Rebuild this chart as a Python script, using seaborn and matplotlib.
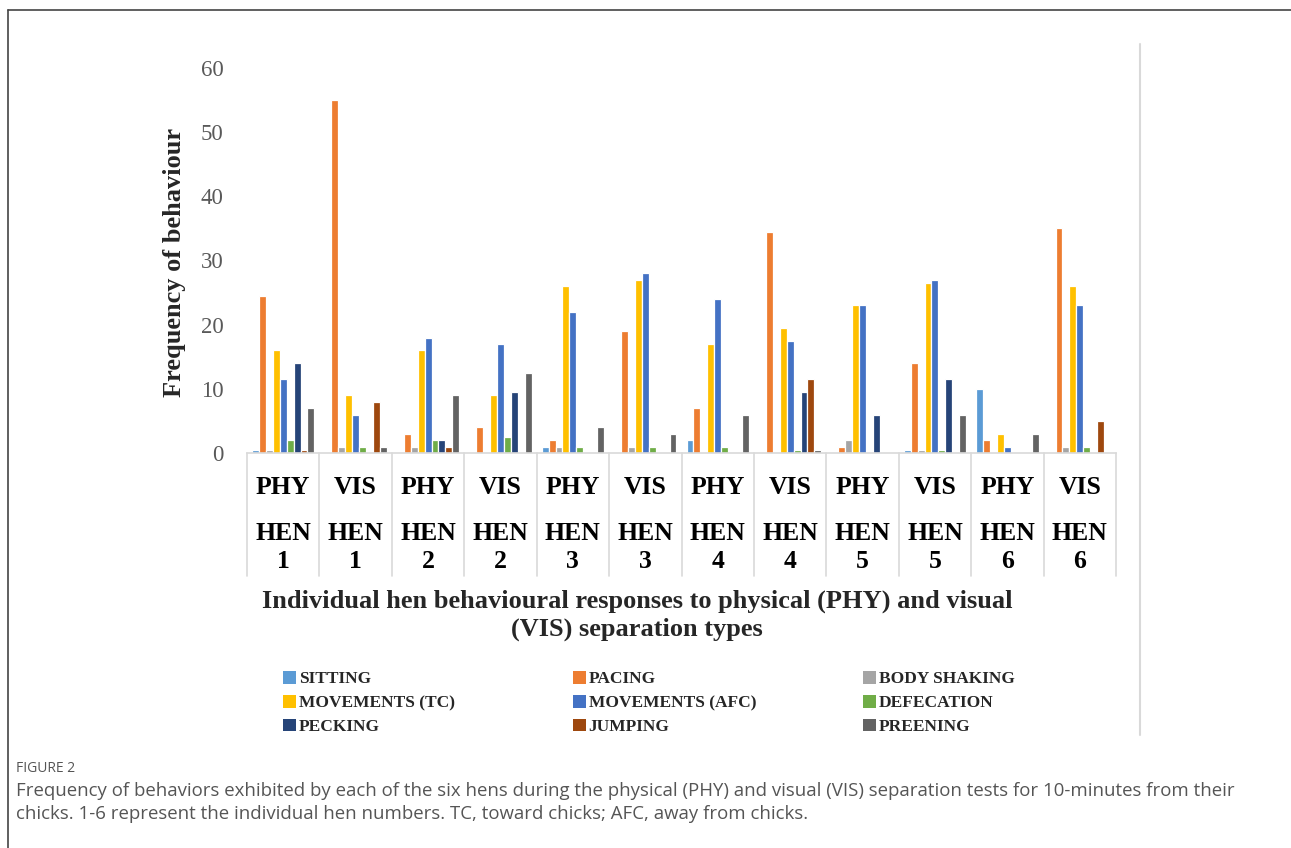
import matplotlib
matplotlib.use("Agg")
import matplotlib.pyplot as plt
import matplotlib.transforms as mtransforms
from matplotlib.patches import Patch
from matplotlib.lines import Line2D
import seaborn as sns
import pandas as pd

# ---------------- data ----------------
groups = ["PHY HEN 1", "VIS HEN 1", "PHY HEN 2", "VIS HEN 2", "PHY HEN 3", "VIS HEN 3",
          "PHY HEN 4", "VIS HEN 4", "PHY HEN 5", "VIS HEN 5", "PHY HEN 6", "VIS HEN 6"]
sep_types = ["PHY", "VIS", "PHY", "VIS", "PHY", "VIS", "PHY", "VIS", "PHY", "VIS", "PHY", "VIS"]
hen_numbers = ["1", "1", "2", "2", "3", "3", "4", "4", "5", "5", "6", "6"]

behaviours = ["SITTING", "PACING", "BODY SHAKING", "MOVEMENTS (TC)", "MOVEMENTS (AFC)",
              "DEFECATION", "PECKING", "JUMPING", "PREENING"]

sitting       = [0.5, 0, 0, 0, 1, 0, 2, 0, 0, 0.5, 10, 0]
pacing        = [24.5, 55, 3, 4, 2, 19, 7, 34.5, 1, 14, 2, 35]
body_shaking  = [0.5, 1, 1, 0, 1, 1, 0, 0, 2, 0.5, 0, 1]
movements_tc  = [16, 9, 16, 9, 26, 27, 17, 19.5, 23, 26.5, 3, 26]
movements_afc = [11.5, 6, 18, 17, 22, 28, 24, 17.5, 23, 27, 1, 23]
defecation    = [2, 1, 2, 2.5, 1, 1, 1, 0.5, 0, 0.5, 0, 1]
pecking       = [14, 0, 2, 9.5, 0, 0, 0, 9.5, 6, 11.5, 0, 0]
jumping       = [0.5, 8, 1, 0, 0, 0, 0, 11.5, 0, 0, 0, 5]
preening      = [7, 1, 9, 12.5, 4, 3, 6, 0.5, 0, 6, 3, 0]

series = [sitting, pacing, body_shaking, movements_tc, movements_afc,
          defecation, pecking, jumping, preening]

colors = ["#5B9BD5", "#ED7D31", "#A5A5A5", "#FFC000", "#4472C4",
          "#70AD47", "#264478", "#9E480E", "#636363"]

y_ticks = [0, 10, 20, 30, 40, 50, 60]

# long table for seaborn
rows = []
for b, vals in zip(behaviours, series):
    for g, v in zip(groups, vals):
        rows.append({"group": g, "behaviour": b, "value": v})
df = pd.DataFrame(rows)

# ---------------- figure ----------------
sns.set_style("white")
plt.rcParams["font.family"] = ["Liberation Serif", "DejaVu Serif"]

W, H = 1291, 848
fig = plt.figure(figsize=(W / 100, H / 100), dpi=100)
fig.patch.set_facecolor("white")

def fx(px):
    return px / W

def fy(py):
    return 1 - py / H

ax = fig.add_axes([fx(247), fy(453), fx(1116) - fx(247), fy(68) - fy(453)])

sns.barplot(data=df, x="group", y="value", hue="behaviour", order=groups,
            hue_order=behaviours, palette=colors, width=0.86,
            edgecolor="white", linewidth=0.9, saturation=1, errorbar=None,
            legend=False, ax=ax)

ax.set_xlim(-0.5, len(groups) - 0.5)
ax.set_ylim(0, 60)
ax.set_yticks(y_ticks)
ax.set_yticklabels([str(t) for t in y_ticks], fontsize=16.5, color="#595959")
ax.tick_params(axis="y", length=0, pad=17)
ax.set_xticks(range(len(groups)))
ax.set_xticklabels([""] * len(groups))
ax.tick_params(axis="x", length=0)
ax.set_xlabel("")
ax.set_ylabel("")
for s in ["top", "right", "left"]:
    ax.spines[s].set_visible(False)
ax.spines["bottom"].set_color("#D9D9D9")
ax.spines["bottom"].set_linewidth(1.2)
ax.grid(False)

# category labels and separators (table-like x axis)
blend = mtransforms.blended_transform_factory(ax.transData, fig.transFigure)
for i, (t, n) in enumerate(zip(sep_types, hen_numbers)):
    ax.text(i, fy(493.5), t, transform=blend, ha="center", va="baseline",
            fontsize=18.5, fontweight="bold", color="black")
    ax.text(i, fy(539.5), "HEN", transform=blend, ha="center", va="baseline",
            fontsize=18.5, fontweight="bold", color="black")
    ax.text(i, fy(568.5), n, transform=blend, ha="center", va="baseline",
            fontsize=18.5, fontweight="bold", color="black")
for k in range(len(groups) + 1):
    ax.plot([k - 0.5, k - 0.5], [fy(453), fy(576)], transform=blend,
            color="#D9D9D9", lw=1.2, clip_on=False)

# axis titles
fig.text(fx(637), fy(608), "Individual hen behavioural responses to physical (PHY) and visual",
         ha="center", va="baseline", fontsize=19, fontweight="bold")
fig.text(fx(637), fy(636), "(VIS) separation types",
         ha="center", va="baseline", fontsize=19, fontweight="bold")
fig.text(fx(175), fy(262), "Frequency of behaviour", rotation=90,
         ha="center", va="center", fontsize=19, fontweight="bold")

# legend: three columns, row-wise order like the reference
col_x = [283, 573, 863]
for c in range(3):
    idx = [c, c + 3, c + 6]
    handles = [Patch(facecolor=colors[j], edgecolor="none") for j in idx]
    labels = [behaviours[j] for j in idx]
    fig.legend(handles, labels, loc="upper left",
               bbox_to_anchor=(fx(col_x[c]), fy(671)),
               frameon=False, borderpad=0, borderaxespad=0,
               handlelength=0.75, handleheight=0.75, handletextpad=0.15,
               labelspacing=0.43,
               prop={"family": "Liberation Serif", "weight": "bold", "size": 12.5})

# chart-area border line on the right and outer frame
fig.add_artist(Line2D([fx(1140), fx(1140)], [fy(44), fy(735)], color="#D9D9D9", lw=1.5))
fig.add_artist(Line2D([fx(8), fx(8)], [fy(10), 0], color="#444444", lw=1.2))
fig.add_artist(Line2D([fx(8), 1], [fy(10), fy(10)], color="#444444", lw=1.2))

# caption
cap_font = ["Open Sans", "DejaVu Sans"]
fig.text(fx(16), fy(768), "FIGURE 2", ha="left", va="center", fontsize=10,
         color="#555555", family=cap_font)
fig.text(fx(16), fy(791),
         "Frequency of behaviors exhibited by each of the six hens during the physical (PHY) and visual (VIS) separation tests for 10-minutes from their",
         ha="left", va="center", fontsize=13.4, color="#555555", family=cap_font)
fig.text(fx(16), fy(814),
         "chicks. 1-6 represent the individual hen numbers. TC, toward chicks; AFC, away from chicks.",
         ha="left", va="center", fontsize=13.4, color="#555555", family=cap_font)

fig.savefig("out.png", dpi=100, facecolor="white")
